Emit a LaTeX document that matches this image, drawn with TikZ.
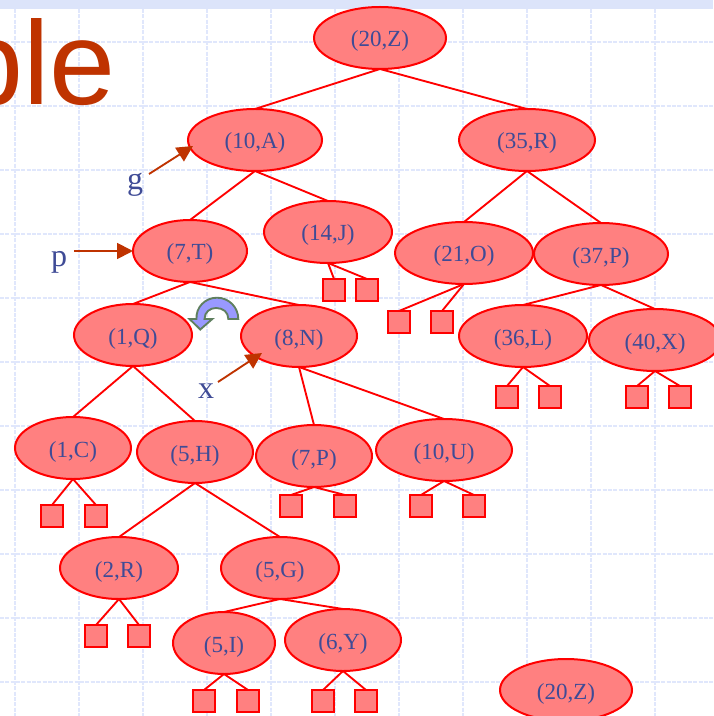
\documentclass[tikz,border=0pt]{standalone}
\usepackage{fontspec}
\setmainfont{Liberation Serif}
\newfontfamily\titlefont{Liberation Sans}
\usetikzlibrary{shapes.geometric,arrows.meta}
\definecolor{gridblue}{HTML}{E0E7FC}
\definecolor{bandblue}{HTML}{DCE4FA}
\definecolor{titlered}{HTML}{BF3300}
\definecolor{inkblue}{HTML}{3F4B96}
\definecolor{nodefill}{HTML}{FF8080}
\definecolor{turnfill}{HTML}{9999FF}
\definecolor{turnline}{HTML}{5F7F5F}
\tikzset{
  treenode/.style={ellipse,draw=red,fill=nodefill,line width=1.5pt,inner sep=0pt,outer sep=0pt,
    minimum width=#1*1.5pt,minimum height=46.5pt,text=inkblue,text height=13.5pt,text depth=0pt,
    font=\fontsize{17.3}{19}\selectfont},
  leafbox/.style={rectangle,draw=red,fill=nodefill,line width=1.5pt,inner sep=0pt,outer sep=0pt,minimum size=16.5pt},
  edge/.style={draw=red,line width=1.4pt},
  pointer/.style={draw=titlered,line width=1.4pt,-{Triangle[length=12pt,width=12pt]}},
  gridline/.style={draw=gridblue,line width=1.2pt,dash pattern=on 3pt off 1pt},
  letter/.style={text=inkblue,font=\fontsize{24}{26}\selectfont,inner sep=0pt,anchor=base}
}
\begin{document}
\begin{tikzpicture}[x=0.75pt,y=-0.75pt]
\useasboundingbox (0,0) rectangle (713,716);
\fill[white] (0,0) rectangle (713,716);
% background grid
\foreach \gx in {15,79,143,207,271,335,399,463,527,591,655}
  \draw[gridline] (\gx,9) -- (\gx,716);
\foreach \gy in {42,106,170,234,298,362,426,490,554,618,682}
  \draw[gridline] (0,\gy) -- (713,\gy);
\fill[bandblue] (0,0) rectangle (713,9);
% title fragment
\begin{scope}
\clip (0,0) rectangle (713,716);
\node[anchor=base west,inner sep=0pt,text=titlered,font=\titlefont\fontsize{89}{89}\selectfont] (title) at (-43,105) {ple};
\end{scope}
% tree nodes
\node[treenode=66] (z)  at (380,38)  {(20,Z)};
\node[treenode=67] (a)  at (255,140) {(10,A)};
\node[treenode=68] (r)  at (527,140) {(35,R)};
\node[treenode=57] (t)  at (190,251) {(7,T)};
\node[treenode=64] (j)  at (328,232) {(14,J)};
\node[treenode=69] (o)  at (464,253) {(21,O)};
\node[treenode=67] (pp) at (601,254) {(37,P)};
\node[treenode=59] (q)  at (133,335) {(1,Q)};
\node[treenode=58] (n)  at (299,336) {(8,N)};
\node[treenode=64] (l)  at (523,336) {(36,L)};
\node[treenode=66] (xx) at (655,340) {(40,X)};
\node[treenode=58] (c)  at (73,448)  {(1,C)};
\node[treenode=58] (h)  at (195,452) {(5,H)};
\node[treenode=58] (p2) at (314,456) {(7,P)};
\node[treenode=68] (u)  at (444,450) {(10,U)};
\node[treenode=59] (r2) at (119,568) {(2,R)};
\node[treenode=59] (g2) at (280,568) {(5,G)};
\node[treenode=51] (i)  at (224,643) {(5,I)};
\node[treenode=58] (y)  at (343,640) {(6,Y)};
\node[treenode=66] (z2) at (566,690) {(20,Z)};
% leaf boxes
\node[leafbox] (j1) at (334,290) {};
\node[leafbox] (j2) at (367,290) {};
\node[leafbox] (o1) at (399,322) {};
\node[leafbox] (o2) at (442,322) {};
\node[leafbox] (l1) at (507,397) {};
\node[leafbox] (l2) at (550,397) {};
\node[leafbox] (x1) at (637,397) {};
\node[leafbox] (x2) at (680,397) {};
\node[leafbox] (c1) at (52,516)  {};
\node[leafbox] (c2) at (96,516)  {};
\node[leafbox] (p1) at (291,506) {};
\node[leafbox] (p3) at (345,506) {};
\node[leafbox] (u1) at (421,506) {};
\node[leafbox] (u2) at (474,506) {};
\node[leafbox] (s1) at (96,636)  {};
\node[leafbox] (s2) at (139,636) {};
\node[leafbox] (i1) at (204,701) {};
\node[leafbox] (i2) at (248,701) {};
\node[leafbox] (y1) at (323,701) {};
\node[leafbox] (y2) at (366,701) {};
% connectors
\foreach \pa/\ch in {z/a,z/r,a/t,a/j,r/o,r/pp,t/q,t/n,pp/l,pp/xx,q/c,q/h,n/p2,n/u,h/r2,h/g2,g2/i,g2/y,
  j/j1,j/j2,o/o1,o/o2,l/l1,l/l2,xx/x1,xx/x2,c/c1,c/c2,p2/p1,p2/p3,u/u1,u/u2,r2/s1,r2/s2,i/i1,i/i2,y/y1,y/y2}
  \draw[edge] (\pa.south) -- (\ch.north);
% pointers and their letters
\node[letter] (gl) at (135,190) {g};
\node[letter] (pl) at (59,267)  {p};
\node[letter] (xl) at (206,398) {x};
\coordinate (gs) at (149,174);
\coordinate (ge) at (193,146);
\coordinate (ps) at (74,251);
\coordinate (xs) at (218,382);
\coordinate (xe) at (262,353);
\draw[pointer] (gs) -- (ge);
\draw[pointer] (ps) -- (t.west);
\draw[pointer] (xs) -- (xe);
% rotation arrow
\draw[draw=turnline,fill=turnfill,line width=1.4pt,line join=miter]
  (238.3,319) .. controls (238.3,307.2) and (228.8,297.7) .. (217,297.7)
  .. controls (205.2,297.7) and (195.7,307.2) .. (196.5,319)
  -- (189.5,319) -- (200.3,329.5) -- (212.3,319) -- (204.5,319)
  .. controls (204.5,312) and (210,308) .. (216,308)
  .. controls (223,308) and (228.3,312) .. (228.3,319) -- cycle;
\end{tikzpicture}
\end{document}
